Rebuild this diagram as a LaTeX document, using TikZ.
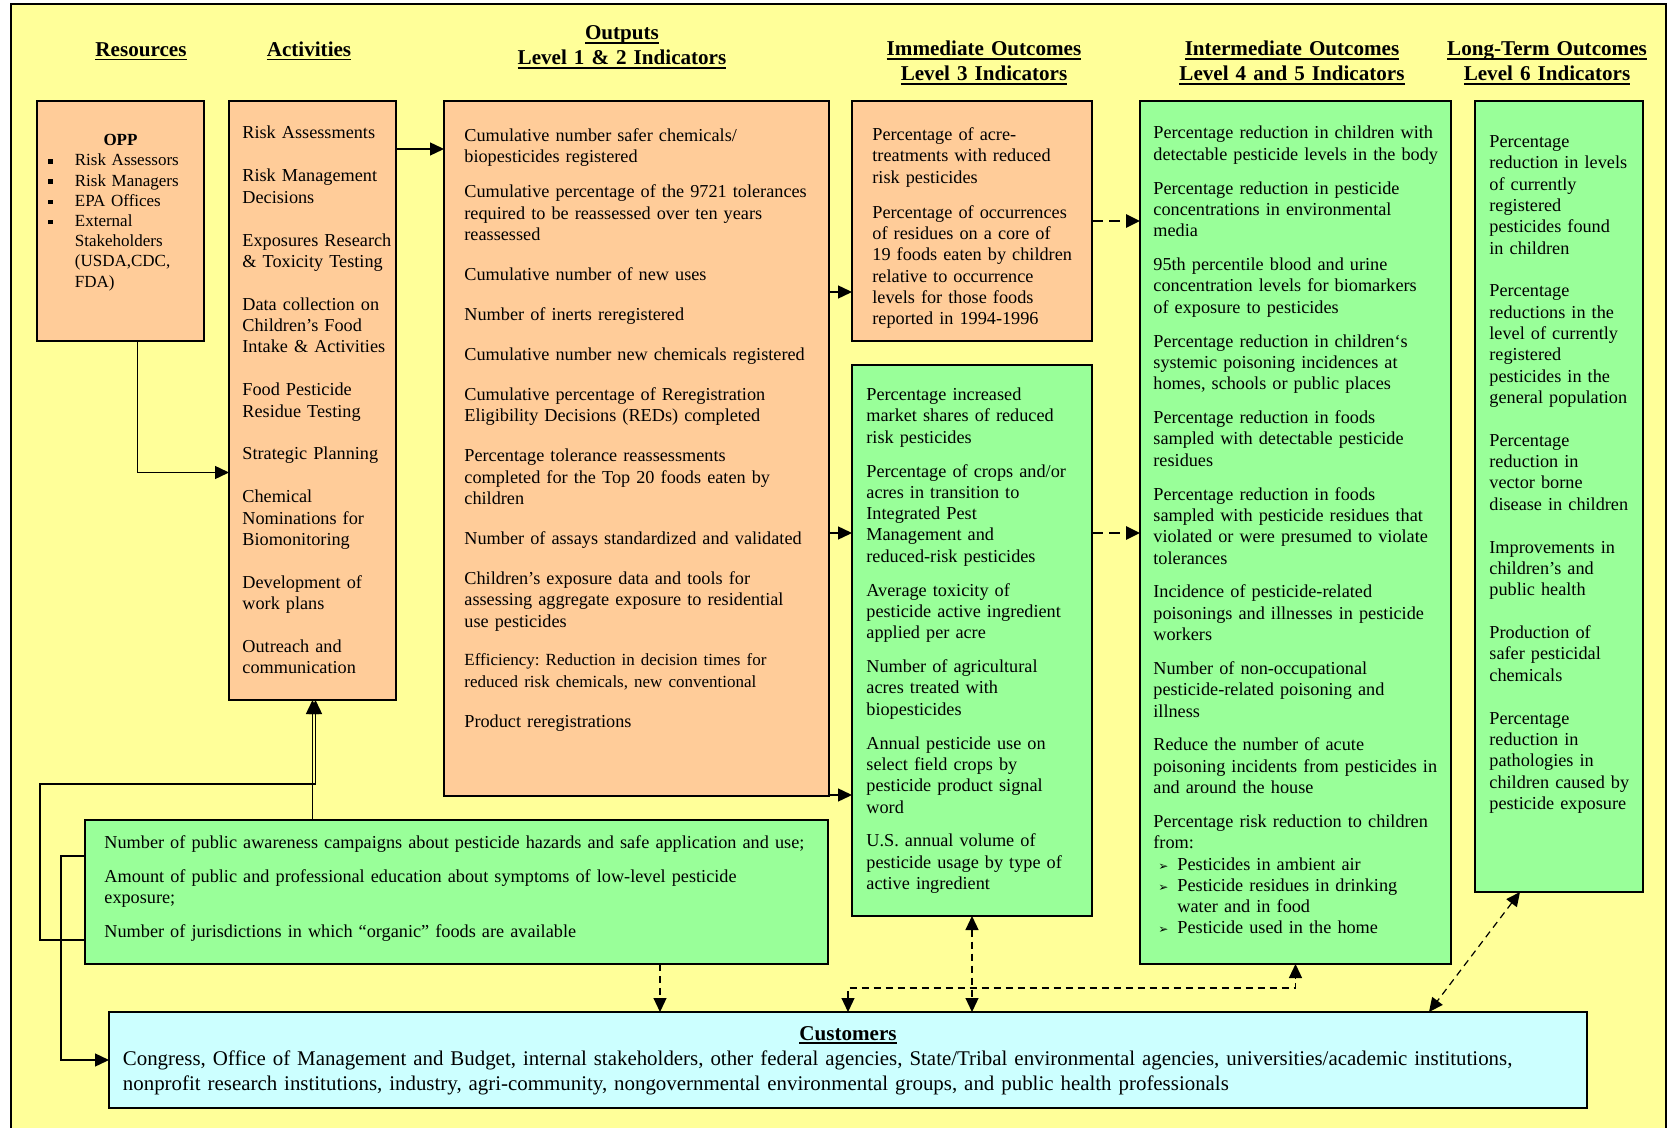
\documentclass[tikz,border=0pt]{standalone}
\usepackage{fontspec}
\setmainfont{Liberation Serif}
\newfontfamily\dingfont{DejaVu Sans}
\usetikzlibrary{positioning}
\usetikzlibrary{arrows.meta}
\definecolor{bgyel}{HTML}{FFFF99}
\definecolor{orfill}{HTML}{FFCC99}
\definecolor{grfill}{HTML}{99FF99}
\definecolor{cyfill}{HTML}{CCFFFF}
\frenchspacing
\newcommand{\bodyfont}{\fontsize{9.12}{10.65}\selectfont}
\newcommand{\smfont}{\fontsize{8.5}{10.1}\selectfont}
\newcommand{\hdrfont}{\fontsize{10.55}{12.5}\selectfont\bfseries}
\newcommand{\custfont}{\fontsize{10.45}{12.75}\selectfont}
\newcommand{\hul}[1]{\leavevmode\setbox0\hbox{#1}\rlap{\rule[-1.9pt]{\wd0}{0.7pt}}\box0}
\newcommand{\sqbul}{\makebox[13.25pt][l]{\rule[1.2pt]{2.2pt}{2.2pt}}}
\newcommand{\arrbul}{\hspace*{2.5pt}\makebox[9.5pt][l]{\dingfont\fontsize{6}{6}\selectfont ➢}}
\tikzset{
    box/.style={
        draw,
        line width=0.7pt,
        inner sep=0pt,
        outer sep=0pt},
    orbox/.style={box, fill=orfill},
    grbox/.style={box, fill=grfill},
    cybox/.style={box, fill=cyfill},
    body/.style={
        inner sep=0pt,
        anchor=base west,
        align=left,
        font=\bodyfont},
    hdr/.style={
        inner sep=0pt,
        anchor=base,
        align=center,
        text width=160pt,
        font=\hdrfont},
    conn/.style={
        draw,
        line width=0.7pt,
        ->,>={Triangle[length=7pt,width=6.5pt]}},
    dsh/.style={conn, line width=0.6pt, dash pattern=on 3.5pt off 2.5pt},
    thkdsh/.style={conn, line width=1.3pt, dash pattern=on 5.5pt off 3pt}}

\begin{document}
\begin{tikzpicture}[x=0.5pt,y=-0.5pt]
        \useasboundingbox (0,0) rectangle (1670,1128);
        \fill[white] (0,0) rectangle (1670,1128);
        \fill[bgyel] (11,4) rectangle (1666,1128);
        \draw[line width=1pt] (11,1128) -- (11,4) -- (1666,4) -- (1666,1128);
        % column heads
        \node[hdr] (hres) at (141,56.5) {\hul{Resources}};
        \node[hdr] (hact) at (309,56.5) {\hul{Activities}};
        \node[hdr] (hout) at (622,40) {\hul{Outputs}\\\hul{Level 1 \& 2 Indicators}};
        \node[hdr] (himm) at (984,56) {\hul{Immediate Outcomes}\\\hul{Level 3 Indicators}};
        \node[hdr] (hint) at (1292,56) {\hul{Intermediate Outcomes}\\\hul{Level 4 and 5 Indicators}};
        \node[hdr] (hlong) at (1547,56) {\hul{Long-Term Outcomes}\\\hul{Level 6 Indicators}};
        % boxes
        \node[orbox, minimum width=83.5pt, minimum height=120pt, anchor=north west] (res) at (37,101) {};
        \node[orbox, minimum width=83.5pt, minimum height=299.5pt, right=12.5pt of res.north east, anchor=north west] (act) {};
        \node[orbox, minimum width=192.5pt, minimum height=347.5pt, right=24pt of act.north east, anchor=north west] (outp) {};
        \node[orbox, minimum width=120pt, minimum height=120pt, right=11.5pt of outp.north east, anchor=north west] (imm) {};
        \node[grbox, minimum width=120pt, minimum height=275.5pt, below=12pt of imm.south west, anchor=north west] (immg) {};
        \node[grbox, minimum width=155.5pt, minimum height=431.5pt, right=24pt of imm.north east, anchor=north west] (inter) {};
        \node[grbox, minimum width=84pt, minimum height=395.5pt, right=12pt of inter.north east, anchor=north west] (longt) {};
        \node[grbox, minimum width=371.5pt, minimum height=72pt, anchor=north west] (reach) at (85,820) {};
        \node[cybox, minimum width=739pt, minimum height=48pt, anchor=north west] (cust) at (109,1012) {};
        % texts
        \node[inner sep=0pt, anchor=base, font=\smfont\bfseries] (opp) at ([yshift=-22.5pt]res.north) {OPP};
        \node[body, font=\smfont, text width=85pt] (rest) at ([shift={(5.5pt,-32.5pt)}]res.north west) {\sqbul Risk Assessors\\ \sqbul Risk Managers\\ \sqbul EPA Offices\\ \sqbul External\\ \hspace*{13.25pt}Stakeholders\\ \hspace*{13.25pt}(USDA,CDC,\\ \hspace*{13.25pt}FDA)};
        \node[body, text width=95pt] (actt) at ([shift={(6.5pt,-19pt)}]act.north west) {Risk Assessments\\[10.8pt] Risk Management\\ Decisions\\[10.8pt] Exposures Research\\ \& Toxicity Testing\\[10.8pt] Data collection on\\ Children’s Food\\ Intake \& Activities\\[10.8pt] Food Pesticide\\ Residue Testing\\[10.8pt] Strategic Planning\\[10.8pt] Chemical\\ Nominations for\\ Biomonitoring\\[10.8pt] Development of\\ work plans\\[10.8pt] Outreach and\\ communication};
        \node[body, text width=200pt] (outt) at ([shift={(10pt,-20.3pt)}]outp.north west) {Cumulative number safer chemicals/\\ biopesticides registered\\[6.9pt] Cumulative percentage of the 9721 tolerances\\ required to be reassessed over ten years\\ reassessed\\[9.35pt] Cumulative number of new uses\\[9.35pt] Number of inerts reregistered\\[9.35pt] Cumulative number new chemicals registered\\[9.35pt] Cumulative percentage of Reregistration\\ Eligibility Decisions (REDs) completed\\[9.35pt] Percentage tolerance reassessments\\ completed for the Top 20 foods eaten by\\ children\\[9.35pt] Number of assays standardized and validated\\[9.35pt] Children’s exposure data and tools for\\ assessing aggregate exposure to residential\\ use pesticides\\[9.35pt] {\smfont Efficiency: Reduction in decision times for\\ reduced risk chemicals, new conventional}\\[9.35pt] Product reregistrations};
        \node[body, text width=130pt] (immt) at ([shift={(10pt,-19.8pt)}]imm.north west) {Percentage of acre-\\ treatments with reduced\\ risk pesticides\\[6.9pt] Percentage of occurrences\\ of residues on a core of\\ 19 foods eaten by children\\ relative to occurrence\\ levels for those foods\\ reported in 1994-1996};
        \node[body, text width=130pt] (immgt) at ([shift={(7pt,-17.8pt)}]immg.north west) {Percentage increased\\ market shares of reduced\\ risk pesticides\\[6.3pt] Percentage of crops and/or\\ acres in transition to\\ Integrated Pest\\ Management and\\ reduced-risk pesticides\\[6.3pt] Average toxicity of\\ pesticide active ingredient\\ applied per acre\\[6.3pt] Number of agricultural\\ acres treated with\\ biopesticides\\[6.3pt] Annual pesticide use on\\ select field crops by\\ pesticide product signal\\ word\\[6.3pt] U.S. annual volume of\\ pesticide usage by type of\\ active ingredient};
        \node[body, text width=170pt] (intert) at ([shift={(6.5pt,-19pt)}]inter.north west) {Percentage reduction in children with\\ detectable pesticide levels in the body\\[6.3pt] Percentage reduction in pesticide\\ concentrations in environmental\\ media\\[6.3pt] 95th percentile blood and urine\\ concentration levels for biomarkers\\ of exposure to pesticides\\[6.3pt] Percentage reduction in children‘s\\ systemic poisoning incidences at\\ homes, schools or public places\\[6.3pt] Percentage reduction in foods\\ sampled with detectable pesticide\\ residues\\[6.3pt] Percentage reduction in foods\\ sampled with pesticide residues that\\ violated or were presumed to violate\\ tolerances\\[6.3pt] Incidence of pesticide-related\\ poisonings and illnesses in pesticide\\ workers\\[6.3pt] Number of non-occupational\\ pesticide-related poisoning and\\ illness\\[6.3pt] Reduce the number of acute\\ poisoning incidents from pesticides in\\ and around the house\\[6.3pt] Percentage risk reduction to children\\ from:\\ \arrbul Pesticides in ambient air\\ \arrbul Pesticide residues in drinking\\ \hspace*{12pt}water and in food\\ \arrbul Pesticide used in the home};
        \node[body, text width=95pt] (longtt) at ([shift={(7pt,-23.3pt)}]longt.north west) {Percentage\\ reduction in levels\\ of currently\\ registered\\ pesticides found\\ in children\\[10.8pt] Percentage\\ reductions in the\\ level of currently\\ registered\\ pesticides in the\\ general population\\[10.8pt] Percentage\\ reduction in\\ vector borne\\ disease in children\\[10.8pt] Improvements in\\ children’s and\\ public health\\[10.8pt] Production of\\ safer pesticidal\\ chemicals\\[10.8pt] Percentage\\ reduction in\\ pathologies in\\ children caused by\\ pesticide exposure};
        \node[body, text width=380pt] (reacht) at ([shift={(9.5pt,-14pt)}]reach.north west) {Number of public awareness campaigns about pesticide hazards and safe application and use;\\[6.4pt] Amount of public and professional education about symptoms of low-level pesticide\\ exposure;\\[6.4pt] Number of jurisdictions in which “organic” foods are available};
        \node[hdr] (custh) at ([yshift=-14pt]cust.north) {\hul{Customers}};
        \node[body, font=\custfont, text width=760pt] (custt) at ([shift={(6.75pt,-26.5pt)}]cust.north west) {Congress, Office of Management and Budget, internal stakeholders, other federal agencies, State/Tribal environmental agencies, universities/academic institutions,\\ nonprofit research institutions, industry, agri-community, nongovernmental environmental groups, and public health professionals};
        % connectors
        \coordinate (r0) at ([xshift=8.5pt]res.south);
        \coordinate (a0) at ([yshift=-36pt]act.west);
        \coordinate (a3) at ([yshift=24.5pt]imm.south west);
        \coordinate (b0) at ([yshift=-84pt]immg.north west);
        \coordinate (c0) at ([yshift=0.5pt]outp.south east);
        \coordinate (w1) at ([yshift=-24pt]reach.west);
        \coordinate (w2) at ([yshift=18pt]reach.west);
        \coordinate (k1) at ([shift={(1.5pt,-42pt)}]act.south);
        \coordinate (d0) at ([xshift=101.75pt]reach.south);
        \coordinate (l0) at ([xshift=-19.5pt]longt.south);
        \coordinate (l1) at ([xshift=-79pt]cust.north east);
        \draw[conn] (r0) |- (a0);
        \draw[conn] ([yshift=-24pt]act.north east) -- ([yshift=-24pt]outp.north west);
        \draw[conn] (a3 -| outp.east) -- (a3);
        \draw[conn] (b0 -| outp.east) -- (b0);
        \draw[conn] (c0) -- (c0 -| immg.west);
        \draw[thkdsh] (imm.east) -- (imm.east -| inter.west);
        \draw[thkdsh] (b0 -| immg.east) -- (b0 -| inter.west);
        \draw[conn] (reach.north -| act.south) -- (act.south);
        \draw[conn] (w1) -- ++(-22.5pt,0) |- (k1) -- (k1 |- act.south);
        \draw[conn] (w2) -- ++(-12pt,0) |- (cust.west);
        \draw[dsh] (d0) -- (d0 |- cust.north);
        \draw[dsh,<->] (immg.south) -- (immg.south |- cust.north);
        \draw[dsh,<->] (cust.north) |- ([yshift=-12pt]inter.south) -- (inter.south);
        \draw[dsh,<->] (l0) -- (l1);
    \end{tikzpicture}
\end{document}
